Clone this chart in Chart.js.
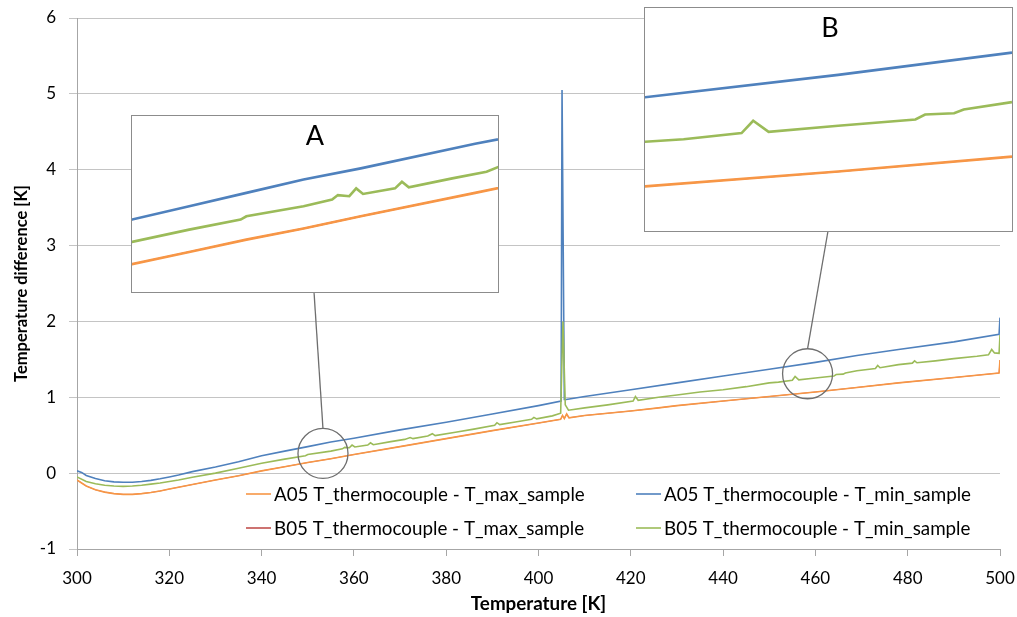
<!DOCTYPE html>
<html>
<head>
<meta charset="utf-8">
<title>Temperature difference</title>
<script src="https://cdn.jsdelivr.net/npm/chart.js@4.4.1/dist/chart.umd.min.js"></script>
<style>
  body { margin: 0; background: #fff; }
  #wrap { position: relative; width: 1017px; height: 617px; }
  .inset { position: absolute; background: #fff; border: 1px solid #8c8c8c; box-sizing: border-box; }
  .inset canvas { position: absolute; left: 0; top: 0; }
  .inset span { position: absolute; font: 27px Lato, "Open Sans", sans-serif; color: #000; transform: translateX(-50%); }
</style>
</head>
<body>
<div id="wrap">
  <canvas id="main" width="1017" height="617"></canvas>
  <div class="inset" id="boxA" style="left:131px; top:115px; width:368px; height:178px;">
    <canvas id="insetA" width="366" height="176"></canvas>
    <span style="left:183px; top:2px;">A</span>
  </div>
  <div class="inset" id="boxB" style="left:644px; top:7px; width:369px; height:225px;">
    <canvas id="insetB" width="367" height="223"></canvas>
    <span style="left:185px; top:2px;">B</span>
  </div>
</div>
<script>
// A05 T_thermocouple - T_max_sample (orange)
const aMaxT = [300, 301, 302, 304, 306, 308, 310, 312, 314, 316,
  318, 320, 322, 325, 330, 335, 340, 345, 350, 355,
  360, 370, 380, 390, 400, 404.8, 405.2, 405.6, 406.1, 406.6,
  410, 420, 426, 430, 440, 450, 460, 469, 478, 490,
  499.8, 500];
const aMaxV = [-0.09, -0.13, -0.17, -0.22, -0.25, -0.27, -0.28, -0.28, -0.27, -0.255,
  -0.235, -0.21, -0.185, -0.15, -0.09, -0.035, 0.03, 0.085, 0.14, 0.19,
  0.245, 0.35, 0.455, 0.56, 0.66, 0.71, 0.76, 0.72, 0.78, 0.73,
  0.76, 0.82, 0.86, 0.89, 0.95, 1.01, 1.07, 1.13, 1.19, 1.26,
  1.32, 1.49];

// A05 T_thermocouple - T_min_sample (blue)
const aMinT = [300, 301, 302, 304, 306, 308, 310, 312, 314, 316,
  318, 320, 322, 325, 330, 335, 340, 345, 350, 355,
  360, 370, 380, 390, 400, 404.9, 405.1, 405.6, 406, 410,
  420, 430, 440, 450, 460, 469, 478, 490, 499.8, 500];
const aMinV = [0.03, 0.01, -0.03, -0.07, -0.10, -0.115, -0.12, -0.12, -0.11, -0.095,
  -0.075, -0.05, -0.025, 0.02, 0.08, 0.15, 0.23, 0.29, 0.35, 0.41,
  0.46, 0.57, 0.67, 0.78, 0.89, 0.95, 5.05, 0.97, 0.97, 1.01,
  1.10, 1.19, 1.28, 1.37, 1.46, 1.55, 1.63, 1.73, 1.83, 2.05];

// B05 T_thermocouple - T_max_sample (red) lies under the orange curve everywhere
const bMaxT = aMaxT.slice();
const bMaxV = aMaxV.slice();

// B05 T_thermocouple - T_min_sample (green)
const bMinT = [300, 302, 304, 306, 308, 310, 312, 314, 316, 318,
  320, 322, 325, 330, 335, 340, 345, 349.5, 350, 355,
  357.5, 358, 359, 359.6, 360.2, 363, 363.6, 364.2, 368, 371,
  372.2, 372.8, 376, 377, 377.6, 382, 386, 390.5, 391, 391.6,
  395, 398.5, 399, 399.6, 403, 404.8, 405.3, 405.8, 406.5, 410,
  415, 420.5, 421, 421.6, 426, 430, 435, 440, 445, 450,
  452, 455, 455.6, 456.4, 460, 464, 464.5, 466, 466.5, 469,
  473, 473.5, 474, 478, 481, 481.5, 482, 486, 490, 495,
  497.5, 498.2, 498.8, 499.8, 500];
const bMinV = [-0.05, -0.11, -0.14, -0.16, -0.17, -0.175, -0.17, -0.16, -0.145, -0.13,
  -0.11, -0.09, -0.055, 0.0, 0.065, 0.13, 0.185, 0.23, 0.245, 0.29,
  0.32, 0.34, 0.335, 0.37, 0.345, 0.37, 0.40, 0.375, 0.415, 0.445,
  0.47, 0.455, 0.49, 0.52, 0.495, 0.54, 0.58, 0.63, 0.665, 0.64,
  0.675, 0.71, 0.735, 0.715, 0.755, 0.79, 2.0, 0.9, 0.83, 0.86,
  0.9, 0.95, 1.01, 0.96, 1.0, 1.03, 1.07, 1.10, 1.14, 1.19,
  1.2, 1.225, 1.275, 1.23, 1.255, 1.28, 1.30, 1.305, 1.32, 1.35,
  1.38, 1.42, 1.39, 1.43, 1.45, 1.48, 1.455, 1.48, 1.51, 1.54,
  1.56, 1.63, 1.585, 1.58, 1.82];

// axis ticks
const xTicks = [300, 320, 340, 360, 380, 400, 420, 440, 460, 480, 500];
const yTicks = [-1, 0, 1, 2, 3, 4, 5, 6];

// zoomed regions (circle centres in K / K, and the ranges the insets show)
const zoomA = { cx: 353.3, cy: 0.26, xMin: 340, xMax: 372, yMin: -0.095, yMax: 0.695 };
const zoomB = { cx: 458.3, cy: 1.31, xMin: 450, xMax: 469, yMin: 0.83, yMax: 1.73 };

const FONT = 'Lato, "Open Sans", sans-serif';

function pts(t, v) {
  return t.map((x, i) => ({ x: x, y: v[i] }));
}

function buildDatasets(width) {
  return [
    { label: 'A05 T_thermocouple - T_max_sample', data: pts(aMaxT, aMaxV), borderColor: '#f79646', order: 2, borderWidth: width },
    { label: 'A05 T_thermocouple - T_min_sample', data: pts(aMinT, aMinV), borderColor: '#4f81bd', order: 1, borderWidth: width },
    { label: 'B05 T_thermocouple - T_max_sample', data: pts(bMaxT, bMaxV), borderColor: '#c0504d', order: 3, borderWidth: width * 0.5 },
    { label: 'B05 T_thermocouple - T_min_sample', data: pts(bMinT, bMinV), borderColor: '#9bbb59', order: 0, borderWidth: width }
  ].map(d => Object.assign(d, { pointRadius: 0, fill: false, tension: 0 }));
}

// legend drawn inside the plot, two columns
const legendInside = {
  id: 'legendInside',
  afterDraw(chart) {
    const ctx = chart.ctx;
    const slots = [[246, 494], [636, 494], [246, 528], [636, 528]];
    ctx.save();
    ctx.font = '18.8px ' + FONT;
    ctx.textBaseline = 'middle';
    ctx.fillStyle = '#000';
    chart.data.datasets.forEach((ds, i) => {
      const [x, y] = slots[i];
      ctx.strokeStyle = ds.borderColor;
      ctx.lineWidth = 1.6;
      ctx.beginPath();
      ctx.moveTo(x, y);
      ctx.lineTo(x + 25, y);
      ctx.stroke();
      ctx.fillText(ds.label, x + 28, y + 1);
    });
    ctx.restore();
  }
};

// circles marking the zoomed regions and the lines to the insets
const zoomMarks = {
  id: 'zoomMarks',
  afterDatasetsDraw(chart) {
    const ctx = chart.ctx;
    const xs = chart.scales.x, ys = chart.scales.y;
    const marks = [[zoomA, 314, 292], [zoomB, 828, 231]];
    ctx.save();
    ctx.strokeStyle = '#6e6e6e';
    ctx.lineWidth = 1.3;
    marks.forEach(([z, tx, ty]) => {
      const cx = xs.getPixelForValue(z.cx);
      const cy = ys.getPixelForValue(z.cy);
      const r = 25;
      ctx.beginPath();
      ctx.arc(cx, cy, r, 0, Math.PI * 2);
      ctx.stroke();
      ctx.beginPath();
      ctx.moveTo(cx, cy - r);
      ctx.lineTo(tx, ty);
      ctx.stroke();
    });
    ctx.restore();
  }
};

new Chart(document.getElementById('main'), {
  type: 'line',
  data: { datasets: buildDatasets(1.6) },
  plugins: [zoomMarks, legendInside],
  options: {
    responsive: false,
    animation: false,
    layout: { padding: { top: 18, right: 17, left: 0, bottom: 0 } },
    plugins: { legend: { display: false }, tooltip: { enabled: false } },
    scales: {
      x: {
        type: 'linear', min: 300, max: 500,
        afterFit: s => { s.height = 68; s.paddingLeft = 0; s.paddingRight = 0; },
        afterBuildTicks: s => { s.ticks = xTicks.map(v => ({ value: v })); },
        ticks: { autoSkip: false, maxRotation: 0, color: '#000', padding: 12, font: { family: FONT, size: 17 } },
        grid: { drawOnChartArea: false, drawTicks: true, tickLength: 7, color: '#a6a6a6' },
        border: { display: true, color: '#a6a6a6', width: 1 },
        title: { display: true, text: 'Temperature [K]', color: '#000', font: { family: FONT, size: 18.8, weight: 'bold' }, padding: { top: 0, bottom: 2 } }
      },
      y: {
        type: 'linear', min: -1, max: 6,
        afterFit: s => { s.width = 77; s.paddingTop = 0; s.paddingBottom = 0; },
        afterBuildTicks: s => { s.ticks = yTicks.map(v => ({ value: v })); },
        ticks: { color: '#000', padding: 13, font: { family: FONT, size: 17 } },
        grid: { color: '#c4c4c4', tickLength: 8 },
        border: { display: true, color: '#a6a6a6', width: 1 },
        title: { display: true, text: 'Temperature difference [K]', color: '#000', font: { family: FONT, size: 16.5, weight: 'bold' }, padding: { top: 12, bottom: 0 } }
      }
    }
  }
});

function inset(id, z) {
  new Chart(document.getElementById(id), {
    type: 'line',
    data: { datasets: buildDatasets(2.6) },
    options: {
      responsive: false,
      animation: false,
      layout: { padding: 0 },
      plugins: { legend: { display: false }, tooltip: { enabled: false } },
      scales: {
        x: { type: 'linear', display: false, min: z.xMin, max: z.xMax },
        y: { type: 'linear', display: false, min: z.yMin, max: z.yMax }
      }
    }
  });
}
inset('insetA', zoomA);
inset('insetB', zoomB);
</script>
</body>
</html>
